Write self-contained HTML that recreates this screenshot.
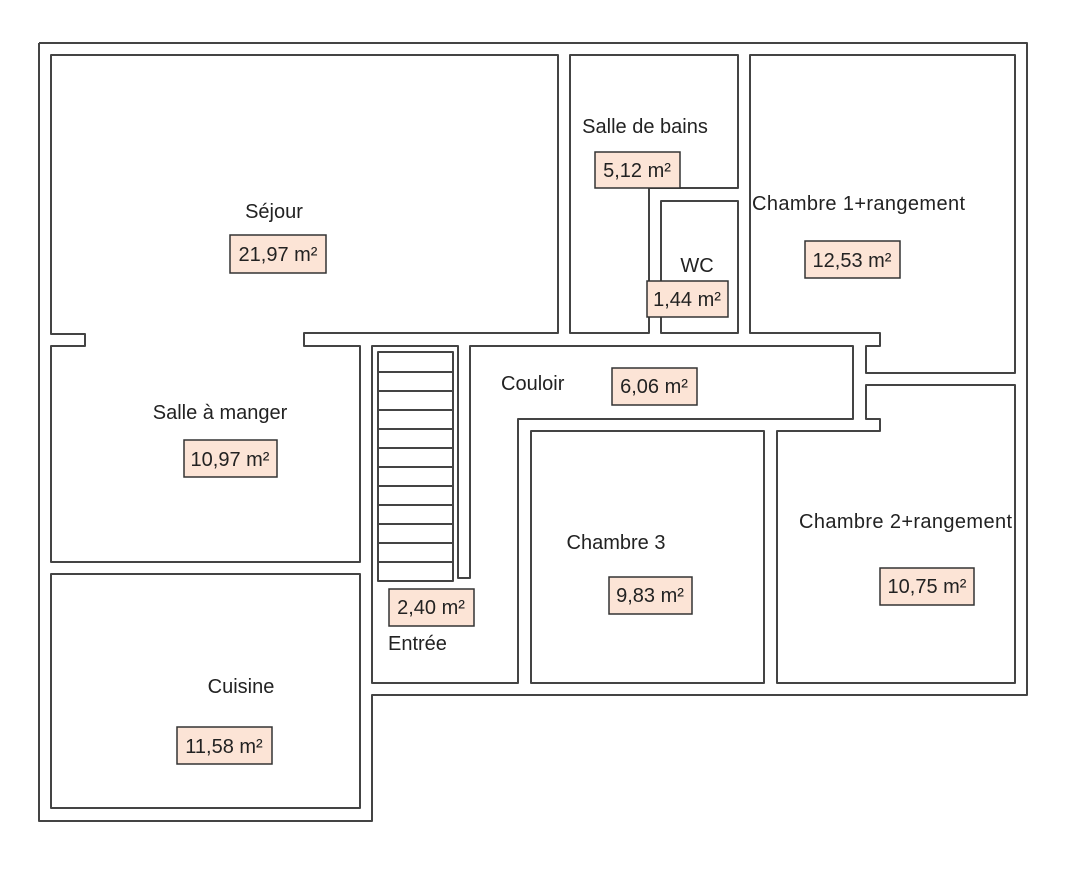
<!DOCTYPE html>
<html><head><meta charset="utf-8"><style>
html,body{margin:0;padding:0;background:#fff;}
svg{display:block;}
text{font-family:"Liberation Sans",sans-serif;font-size:20px;fill:#222;}
.w{fill:none;stroke:#444;stroke-width:2;stroke-linejoin:round;}
.b{fill:#fce4d6;stroke:#333;stroke-width:1.5;}
</style></head><body>
<svg width="1080" height="870" viewBox="0 0 1080 870">
<polyline class="w" points="39,43 1027,43 1027,695 372,695 372,821 39,821 39,43"/>
<polygon class="w" points="51,55 558,55 558,333 304,333 304,346 360,346 360,562 51,562 51,346 85,346 85,334 51,334"/>
<rect class="w" x="51" y="574" width="309" height="234"/>
<polygon class="w" points="570,55 738,55 738,188 649,188 649,333 570,333"/>
<rect class="w" x="661" y="201" width="77" height="132"/>
<polygon class="w" points="750,55 1015,55 1015,373 866,373 866,346 880,346 880,333 750,333"/>
<polygon class="w" points="372,346 458,346 458,578 470,578 470,346 853,346 853,419 518,419 518,683 372,683"/>
<rect class="w" x="531" y="431" width="233" height="252"/>
<polygon class="w" points="777,431 880,431 880,419 866,419 866,385 1015,385 1015,683 777,683"/>
<rect class="w" x="378" y="352" width="75" height="229"/>
<g stroke="#444" stroke-width="2">
<line x1="378" y1="372" x2="453" y2="372"/>
<line x1="378" y1="391" x2="453" y2="391"/>
<line x1="378" y1="410" x2="453" y2="410"/>
<line x1="378" y1="429" x2="453" y2="429"/>
<line x1="378" y1="448" x2="453" y2="448"/>
<line x1="378" y1="467" x2="453" y2="467"/>
<line x1="378" y1="486" x2="453" y2="486"/>
<line x1="378" y1="505" x2="453" y2="505"/>
<line x1="378" y1="524" x2="453" y2="524"/>
<line x1="378" y1="543" x2="453" y2="543"/>
<line x1="378" y1="562" x2="453" y2="562"/>
</g>
<text x="274" y="218" text-anchor="middle">Séjour</text>
<rect class="b" x="230" y="235" width="96" height="38"/><text x="278" y="261" text-anchor="middle">21,97 m²</text>
<text x="220" y="419" text-anchor="middle">Salle à manger</text>
<rect class="b" x="184" y="440" width="93" height="37"/><text x="230" y="466" text-anchor="middle">10,97 m²</text>
<text x="241" y="693" text-anchor="middle">Cuisine</text>
<rect class="b" x="177" y="727" width="95" height="37"/><text x="224" y="753" text-anchor="middle">11,58 m²</text>
<text x="645" y="133" text-anchor="middle">Salle de bains</text>
<rect class="b" x="595" y="152" width="85" height="36"/><text x="637" y="177" text-anchor="middle">5,12 m²</text>
<text x="697" y="272" text-anchor="middle">WC</text>
<rect class="b" x="647" y="281" width="81" height="36"/><text x="687" y="306" text-anchor="middle">1,44 m²</text>
<text x="752" y="210" textLength="213">Chambre 1+rangement</text>
<rect class="b" x="805" y="241" width="95" height="37"/><text x="852" y="267" text-anchor="middle">12,53 m²</text>
<text x="501" y="390">Couloir</text>
<rect class="b" x="612" y="368" width="85" height="37"/><text x="654" y="393" text-anchor="middle">6,06 m²</text>
<rect class="b" x="389" y="589" width="85" height="37"/><text x="431" y="614" text-anchor="middle">2,40 m²</text>
<text x="388" y="650">Entrée</text>
<text x="616" y="549" text-anchor="middle">Chambre 3</text>
<rect class="b" x="609" y="577" width="83" height="37"/><text x="650" y="602" text-anchor="middle">9,83 m²</text>
<text x="799" y="528" textLength="213">Chambre 2+rangement</text>
<rect class="b" x="880" y="568" width="94" height="37"/><text x="927" y="593" text-anchor="middle">10,75 m²</text>
</svg>
</body></html>
